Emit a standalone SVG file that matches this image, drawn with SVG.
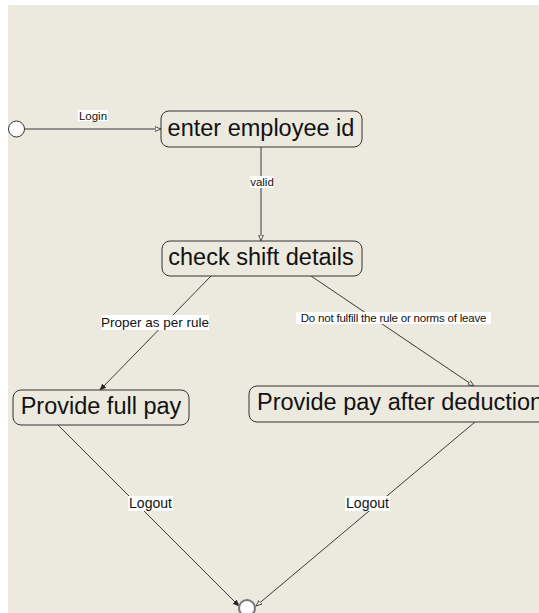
<svg xmlns="http://www.w3.org/2000/svg" width="539" height="613" viewBox="0 0 539 613">
  <style>
    .state rect { fill: #ECE9DF; stroke: #333; stroke-width: 1; }
    .state text { font-family: "Liberation Sans", Arial, sans-serif; font-size: 23.5px; fill: #111; }
    .edge { stroke: #3a3a3a; stroke-width: 1; fill: none; }
    .lbl-bg { fill: #ffffff; }
    .lbl { font-family: "Liberation Sans", Arial, sans-serif; fill: #111; text-anchor: middle; }
  </style>
  <defs>
    <marker id="open" viewBox="0 0 10 10" refX="10" refY="5" markerWidth="6" markerHeight="6" orient="auto" markerUnits="userSpaceOnUse">
      <path d="M0,1 L10,5 L0,9 Z" fill="#ECE9DF" stroke="#3a3a3a" stroke-width="1.4"/>
    </marker>
    <marker id="solid" viewBox="0 0 10 10" refX="10" refY="5" markerWidth="6" markerHeight="6" orient="auto" markerUnits="userSpaceOnUse">
      <path d="M0,1 L10,5 L0,9 Z" fill="#222" stroke="#222" stroke-width="1"/>
    </marker>
  </defs>

  <!-- canvas -->
  <rect x="0" y="0" width="539" height="613" fill="#ffffff"/>
  <rect x="8" y="5" width="531" height="608" fill="#ECE9DF"/>

  <!-- connectors -->
  <g id="connectors">
    <line class="edge" x1="25" y1="129" x2="161" y2="129" marker-end="url(#open)"/>
    <line class="edge" x1="261" y1="147" x2="261" y2="241" marker-end="url(#open)"/>
    <line class="edge" x1="211" y1="276" x2="100" y2="390" marker-end="url(#solid)"/>
    <line class="edge" x1="311" y1="276" x2="474" y2="386" marker-end="url(#open)"/>
    <line class="edge" x1="58" y1="425" x2="239" y2="606" marker-end="url(#solid)"/>
    <line class="edge" x1="475" y1="422" x2="256" y2="606" marker-end="url(#open)"/>

    <rect class="lbl-bg" x="78" y="110" width="30" height="11"/>
    <text class="lbl" x="93" y="119.5" font-size="11.5">Login</text>

    <rect class="lbl-bg" x="250" y="176" width="24" height="12"/>
    <text class="lbl" x="262" y="186" font-size="11.5">valid</text>

    <rect class="lbl-bg" x="101" y="315" width="108" height="15"/>
    <text class="lbl" x="155" y="327" font-size="13.5">Proper as per rule</text>

    <rect class="lbl-bg" x="296" y="312" width="195" height="12"/>
    <text class="lbl" x="393.5" y="322" font-size="11.5" letter-spacing="-0.2">Do not fulfill the rule or norms of leave</text>

    <rect class="lbl-bg" x="128" y="496" width="45" height="15"/>
    <text class="lbl" x="150.5" y="508" font-size="14">Logout</text>

    <rect class="lbl-bg" x="345" y="496" width="45" height="15"/>
    <text class="lbl" x="367.5" y="508" font-size="14">Logout</text>
  </g>

  <!-- initial state -->
  <g id="start">
    <circle cx="16.5" cy="129" r="8" fill="#ffffff" stroke="#333" stroke-width="1"/>
  </g>

  <g id="enter-employee-id" class="state">
    <rect x="161" y="111" width="201" height="36" rx="8"/>
    <text x="261" y="136" text-anchor="middle">enter employee id</text>
  </g>

  <g id="check-shift-details" class="state">
    <rect x="162" y="241" width="200" height="35" rx="8"/>
    <text x="261" y="265" text-anchor="middle">check shift details</text>
  </g>

  <g id="provide-full-pay" class="state">
    <rect x="13" y="390" width="176" height="35" rx="8"/>
    <text x="101" y="414" text-anchor="middle">Provide full pay</text>
  </g>

  <!-- this state box runs past the right edge of the canvas -->
  <g id="provide-pay-after-deduction" class="state">
    <rect x="249" y="386" width="310" height="36" rx="8"/>
    <text x="257" y="410">Provide pay after deduction</text>
  </g>

  <!-- final state -->
  <g id="end">
    <circle cx="247" cy="608" r="8" fill="#ffffff" stroke="#777" stroke-width="2"/>
  </g>
</svg>
